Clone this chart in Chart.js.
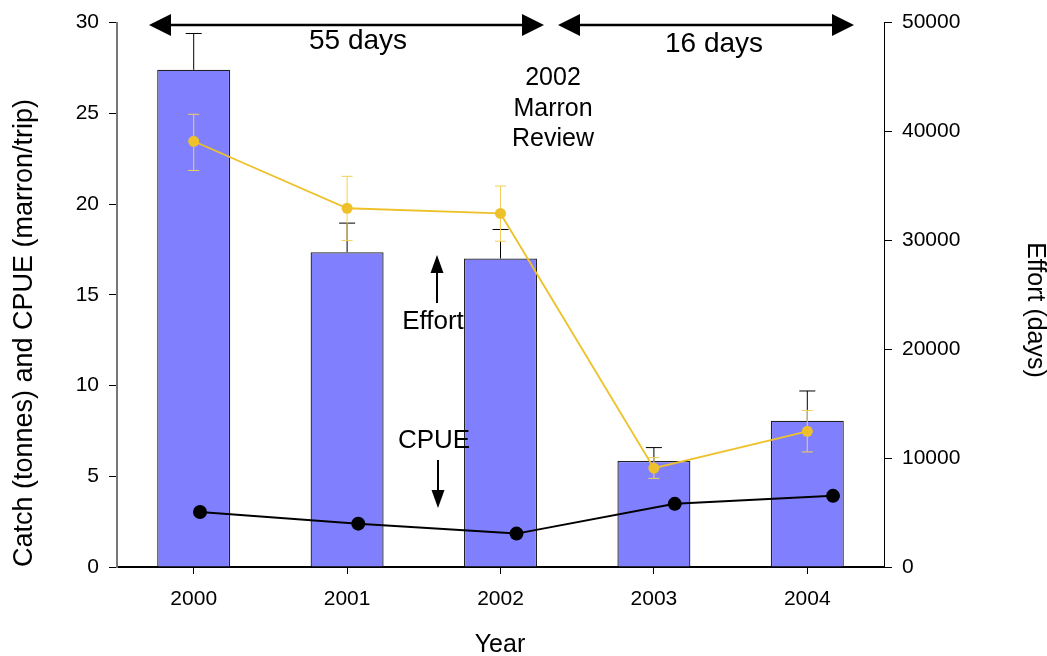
<!DOCTYPE html>
<html>
<head>
<meta charset="utf-8">
<title>Marron catch, effort and CPUE</title>
<script src="https://cdn.jsdelivr.net/npm/chart.js@4.4.0/dist/chart.umd.min.js"></script>
<style>
    html, body { margin: 0; padding: 0; background: #fff; }
    #wrap { width: 1047px; height: 656px; }
</style>
</head>
<body>
<div id="wrap"><canvas id="marronChart" width="1047" height="656"></canvas></div>
<script>
// data
const years = ["2000", "2001", "2002", "2003", "2004"];
const yearNums = [2000, 2001, 2002, 2003, 2004];
const catchTonnes = [27.4, 17.35, 17.0, 5.84, 8.06];
const catchErrTop = [29.4, 18.95, 18.6, 6.58, 9.7];
const effortDays = [39100, 32950, 32470, 9080, 12460];
const effortErrHi = [41580, 35880, 34990, 10050, 14370];
const effortErrLo = [36420, 29980, 29920, 8140, 10570];
const cpue = [3.03, 2.39, 1.84, 3.48, 3.92];
const leftTicks = [0, 5, 10, 15, 20, 25, 30];
const rightTicks = [0, 10000, 20000, 30000, 40000, 50000];

const FONT = "'Liberation Sans', Arial, sans-serif";
const BAR_BLUE = "#8080ff";
const YELLOW = "#eec12a";
const YELLOW_ERR = "#f2cf5c";

// chart area box we want (pixels)
const AREA = { left: 117, right: 884, top: 18, bottom: 567 };

const errorBars = {
    id: "errorBars",
    afterDatasetDraw(chart, args) {
        if (args.index !== 0) return;
        // catch: upper error bar only
        const ctx = chart.ctx;
        const y = chart.scales.y;
        const meta = chart.getDatasetMeta(0);
        ctx.save();
        ctx.strokeStyle = "#000";
        ctx.lineWidth = 1;
        meta.data.forEach((bar, i) => {
            const top = y.getPixelForValue(catchErrTop[i]);
            ctx.beginPath();
            ctx.moveTo(bar.x, bar.y);
            ctx.lineTo(bar.x, top);
            ctx.moveTo(bar.x - 8, top);
            ctx.lineTo(bar.x + 8, top);
            ctx.stroke();
        });
        ctx.restore();
    },
    beforeDatasetDraw(chart, args) {
        if (args.index !== 1) return;
        const ctx = chart.ctx;
        const y2 = chart.scales.y2;
        const meta = chart.getDatasetMeta(1);
        ctx.save();
        ctx.strokeStyle = YELLOW_ERR;
        ctx.lineWidth = 1;
        meta.data.forEach((pt, i) => {
            const hi = y2.getPixelForValue(effortErrHi[i]);
            const lo = y2.getPixelForValue(effortErrLo[i]);
            ctx.beginPath();
            ctx.moveTo(pt.x, hi);
            ctx.lineTo(pt.x, lo);
            ctx.moveTo(pt.x - 5.5, hi);
            ctx.lineTo(pt.x + 5.5, hi);
            ctx.moveTo(pt.x - 5.5, lo);
            ctx.lineTo(pt.x + 5.5, lo);
            ctx.stroke();
        });
        ctx.restore();
    }
};

function arrowHead(ctx, tipX, tipY, dx, dy, len, half) {
    // dx,dy: unit direction of the arrow
    const bx = tipX - dx * len, by = tipY - dy * len;
    ctx.beginPath();
    ctx.moveTo(tipX, tipY);
    ctx.lineTo(bx - dy * half, by + dx * half);
    ctx.lineTo(bx + dy * half, by - dx * half);
    ctx.closePath();
    ctx.fill();
}

function hArrow(ctx, x1, x2, yy) {
    ctx.beginPath();
    ctx.moveTo(x1 + 10, yy);
    ctx.lineTo(x2 - 10, yy);
    ctx.stroke();
    arrowHead(ctx, x1, yy, -1, 0, 22, 11);
    arrowHead(ctx, x2, yy, 1, 0, 22, 11);
}

const annotations = {
    id: "annotations",
    afterDraw(chart) {
        const ctx = chart.ctx;
        ctx.save();
        ctx.fillStyle = "#000";
        ctx.strokeStyle = "#000";
        ctx.lineWidth = 2.5;

        hArrow(ctx, 149, 544, 25);
        hArrow(ctx, 558, 854, 25);

        ctx.textAlign = "center";
        ctx.textBaseline = "alphabetic";
        ctx.font = "28px " + FONT;
        ctx.fillText("55 days", 358, 49);
        ctx.fillText("16 days", 714, 52);

        ctx.font = "25px " + FONT;
        ctx.fillText("2002", 553, 85);
        ctx.fillText("Marron", 553, 116);
        ctx.fillText("Review", 553, 146);

        ctx.font = "26px " + FONT;
        ctx.fillText("Effort", 433, 329);
        ctx.fillText("CPUE", 434, 448);

        ctx.lineWidth = 2;
        ctx.beginPath();
        ctx.moveTo(437, 303);
        ctx.lineTo(437, 265);
        ctx.stroke();
        arrowHead(ctx, 437, 255, 0, -1, 18, 6.5);
        ctx.beginPath();
        ctx.moveTo(438, 460);
        ctx.lineTo(438, 498);
        ctx.stroke();
        arrowHead(ctx, 438, 508, 0, 1, 18, 6.5);

        // axis titles
        ctx.font = "25px " + FONT;
        ctx.textBaseline = "middle";
        ctx.fillText("Year", 500, 645);

        ctx.save();
        ctx.translate(25, 333);
        ctx.rotate(-Math.PI / 2);
        ctx.font = "27px " + FONT;
        ctx.fillText("Catch (tonnes) and CPUE (marron/trip)", 0, 0);
        ctx.restore();

        ctx.save();
        ctx.translate(1035, 310);
        ctx.rotate(Math.PI / 2);
        ctx.font = "25px " + FONT;
        ctx.fillText("Effort (days)", 0, 0);
        ctx.restore();

        ctx.restore();
    }
};

const tickFont = { family: FONT, size: 21 };

new Chart(document.getElementById("marronChart"), {
    type: "bar",
    data: {
        labels: years,
        datasets: [{
            type: "bar",
            label: "Catch (tonnes)",
            data: catchTonnes,
            backgroundColor: BAR_BLUE,
            borderColor: "#222",
            borderWidth: 1.3,
            grouped: false,
            barPercentage: 0.476,
            categoryPercentage: 1,
            xAxisID: "x",
            yAxisID: "y",
            order: 3
        }, {
            type: "line",
            label: "Effort (days)",
            data: effortDays,
            borderColor: YELLOW,
            backgroundColor: YELLOW,
            borderWidth: 1.8,
            pointRadius: 5.5,
            pointBorderWidth: 0,
            tension: 0,
            xAxisID: "x",
            yAxisID: "y2",
            order: 2
        }, {
            type: "line",
            label: "CPUE (marron/trip)",
            data: yearNums.map((yr, i) => ({ x: yr, y: cpue[i] })),
            borderColor: "#000",
            backgroundColor: "#000",
            borderWidth: 2,
            pointRadius: 7,
            pointBorderWidth: 0,
            tension: 0,
            xAxisID: "x2",
            yAxisID: "y",
            order: 1
        }]
    },
    options: {
        responsive: false,
        animation: false,
        layout: { padding: { left: 0, right: 0, top: AREA.top, bottom: 0 } },
        plugins: {
            legend: { display: false },
            tooltip: { enabled: false }
        },
        scales: {
            x: {
                type: "category",
                offset: true,
                grid: { offset: false, drawOnChartArea: false, drawTicks: true, tickLength: 7, color: "#000" },
                border: { color: "#000", width: 2 },
                ticks: { font: tickFont, color: "#000", padding: 13, maxRotation: 0 },
                afterFit: s => { s.height = 656 - AREA.bottom; }
            },
            x2: {
                type: "linear",
                display: false,
                offset: false,
                min: 1999.4755,
                max: 2004.3223
            },
            y: {
                position: "left",
                min: 0,
                max: 30,
                afterBuildTicks: s => { s.ticks = leftTicks.map(v => ({ value: v })); },
                grid: { drawOnChartArea: false, tickLength: 8, color: "#000" },
                border: { color: "#777", width: 2 },
                ticks: { font: tickFont, color: "#000", padding: 10 },
                afterFit: s => { s.width = AREA.left; }
            },
            y2: {
                position: "right",
                min: 0,
                max: 50000,
                afterBuildTicks: s => { s.ticks = rightTicks.map(v => ({ value: v })); },
                grid: { drawOnChartArea: false, tickLength: 8, color: "#000" },
                border: { color: "#000", width: 1 },
                ticks: { font: tickFont, color: "#000", padding: 10, callback: v => String(v) },
                afterFit: s => { s.width = 1047 - AREA.right; }
            }
        }
    },
    plugins: [errorBars, annotations]
});
</script>
</body>
</html>
